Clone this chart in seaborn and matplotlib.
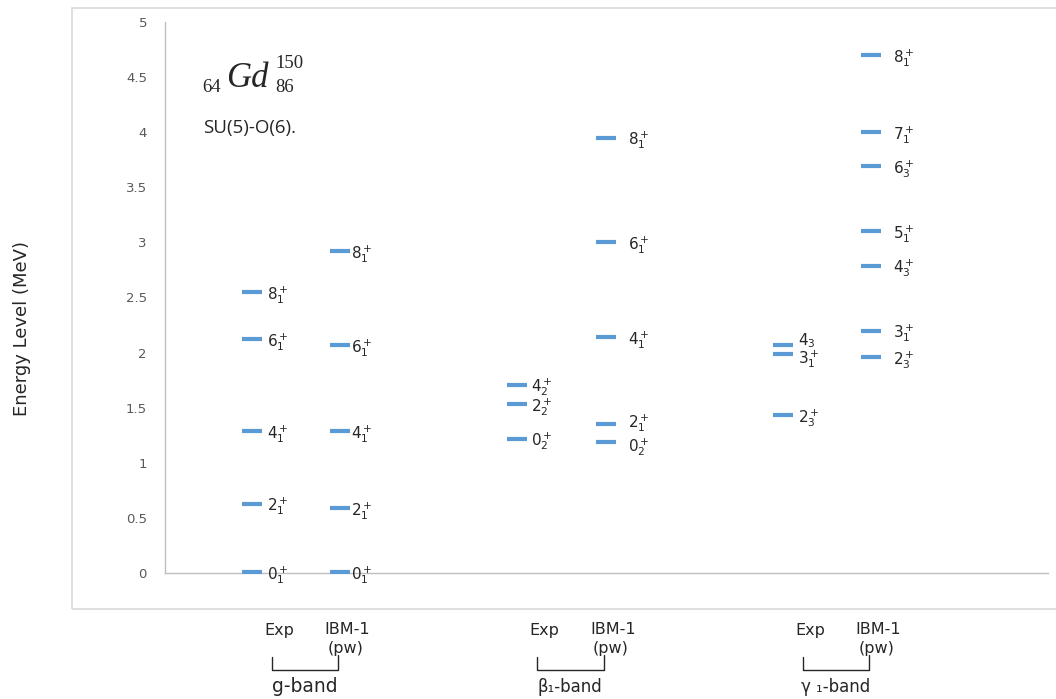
import numpy as np
import pandas as pd
import seaborn as sns
import matplotlib.pyplot as plt
import matplotlib.transforms as mtransforms
from matplotlib.patches import Rectangle

# Data: energy levels (MeV)
col_names = ["g Exp", "g IBM-1", "b Exp", "b IBM-1", "gam Exp", "gam IBM-1"]
col_pos = [0, 1, 3, 4, 6, 7]

g_exp_E = [0.01, 0.63, 1.29, 2.12, 2.55]
g_exp_lab = ["0_1^+", "2_1^+", "4_1^+", "6_1^+", "8_1^+"]
g_ibm_E = [0.01, 0.59, 1.29, 2.07, 2.92]
g_ibm_lab = ["0_1^+", "2_1^+", "4_1^+", "6_1^+", "8_1^+"]
b_exp_E = [1.22, 1.53, 1.71]
b_exp_lab = ["0_2^+", "2_2^+", "4_2^+"]
b_ibm_E = [1.19, 1.35, 2.14, 3.00, 3.95]
b_ibm_lab = ["0_2^+", "2_1^+", "4_1^+", "6_1^+", "8_1^+"]
gam_exp_E = [1.43, 1.99, 2.07]
gam_exp_lab = ["2_3^+", "3_1^+", "4_3"]
gam_ibm_E = [1.96, 2.20, 2.79, 3.10, 3.69, 4.00, 4.70]
gam_ibm_lab = ["2_3^+", "3_1^+", "4_3^+", "5_1^+", "6_3^+", "7_1^+", "8_1^+"]

band_names = ["g-band", "β₁-band", "γ ₁-band"]
band_start = [0, 3, 6]

energies = [g_exp_E, g_ibm_E, b_exp_E, b_ibm_E, gam_exp_E, gam_ibm_E]
labels = [g_exp_lab, g_ibm_lab, b_exp_lab, b_ibm_lab, gam_exp_lab, gam_ibm_lab]

rows = []
for name, pos, E, L in zip(col_names, col_pos, energies, labels):
    for e, l in zip(E, L):
        rows.append({"col": name, "pos": pos, "E": e, "label": l})
df = pd.DataFrame(rows)

# label gap to the right of each column (points), small vertical nudges
label_dx = {"g Exp": 11, "g IBM-1": 8, "b Exp": 10, "b IBM-1": 16, "gam Exp": 11, "gam IBM-1": 16}
nudge = {("gam Exp", "4_3"): 3, ("gam Exp", "3_1^+"): -4,
         ("b IBM-1", "2_1^+"): 1, ("b IBM-1", "0_2^+"): -4}

W, H = 1056, 699
sns.set_style("white")
plt.rcParams["font.family"] = ["DejaVu Sans"]
plt.rcParams["mathtext.fontset"] = "dejavusans"

fig = plt.figure(figsize=(W / 100, H / 100), dpi=100)
ax = fig.add_axes([165 / W, 1 - 573 / H, (1048 - 165) / W, (573 - 22) / H])

sns.scatterplot(data=df, x="pos", y="E", marker="_", s=210, linewidth=3,
                color="#5B9BD5", ax=ax, legend=False, zorder=3)

for _, r in df.iterrows():
    dy = nudge.get((r["col"], r["label"]), -2)
    ax.annotate("$" + r["label"] + "$", xy=(r["pos"], r["E"]),
                xytext=(label_dx[r["col"]], dy), textcoords="offset points",
                ha="left", va="center", fontsize=11, color="#262626")

ax.set_xlim(-0.98, 9.0)
ax.set_ylim(0, 5)
ax.set_yticks(np.arange(0, 5.01, 0.5))
ax.set_yticklabels([f"{v:g}" for v in np.arange(0, 5.01, 0.5)], fontsize=9.5, color="#595959")
ax.set_xticks([])
ax.tick_params(axis="y", length=0, pad=13)
ax.set_xlabel("")
ax.set_ylabel("")
sns.despine(ax=ax)
for s in ["left", "bottom"]:
    ax.spines[s].set_color("#BFBFBF")
    ax.spines[s].set_linewidth(1)

# chart area frame
fig.add_artist(Rectangle((72 / W, 1 - 609 / H), 1.2, (609 - 8) / H, transform=fig.transFigure,
                         fill=False, edgecolor="#D9D9D9", linewidth=1.2))

fig.text(22 / W, 1 - 329 / H, "Energy Level (MeV)", rotation=90, ha="center", va="center",
         fontsize=13, color="#262626")

# nucleus symbol
serif = "Liberation Serif"
fig.text(202 / W, 1 - 88 / H, "64", family=serif, fontsize=13.5, ha="left", va="center")
fig.text(226 / W, 1 - 87 / H, "Gd", family=serif, style="italic", fontsize=25, ha="left", va="baseline")
fig.text(275 / W, 1 - 64 / H, "150", family=serif, fontsize=13.5, ha="left", va="center")
fig.text(275 / W, 1 - 88 / H, "86", family=serif, fontsize=13.5, ha="left", va="center")
fig.text(203 / W, 1 - 128 / H, "SU(5)-O(6).", family=["Open Sans", "DejaVu Sans"],
         fontsize=13.5, ha="left", va="center")

# column captions and brackets below the chart
trans = mtransforms.blended_transform_factory(ax.transData, fig.transFigure)
for name, x0 in zip(band_names, band_start):
    ax.text(x0 + 0.31, 1 - 630 / H, "Exp", transform=trans, ha="center", va="center", fontsize=11.5)
    ax.text(x0 + 1.08, 1 - 630 / H, "IBM-1", transform=trans, ha="center", va="center", fontsize=11.5)
    ax.text(x0 + 1.06, 1 - 649 / H, "(pw)", transform=trans, ha="center", va="center", fontsize=11.5)
    ax.plot([x0 + 0.23, x0 + 0.23, x0 + 0.98, x0 + 0.98],
            [1 - 657 / H, 1 - 670 / H, 1 - 670 / H, 1 - 655 / H],
            transform=trans, color="#262626", linewidth=1, clip_on=False)
    ax.text(x0 + 0.6, 1 - 687 / H, name, transform=trans, ha="center", va="center",
            fontsize=13.5 if x0 == 0 else 12)

fig.savefig("out.png", dpi=100)
